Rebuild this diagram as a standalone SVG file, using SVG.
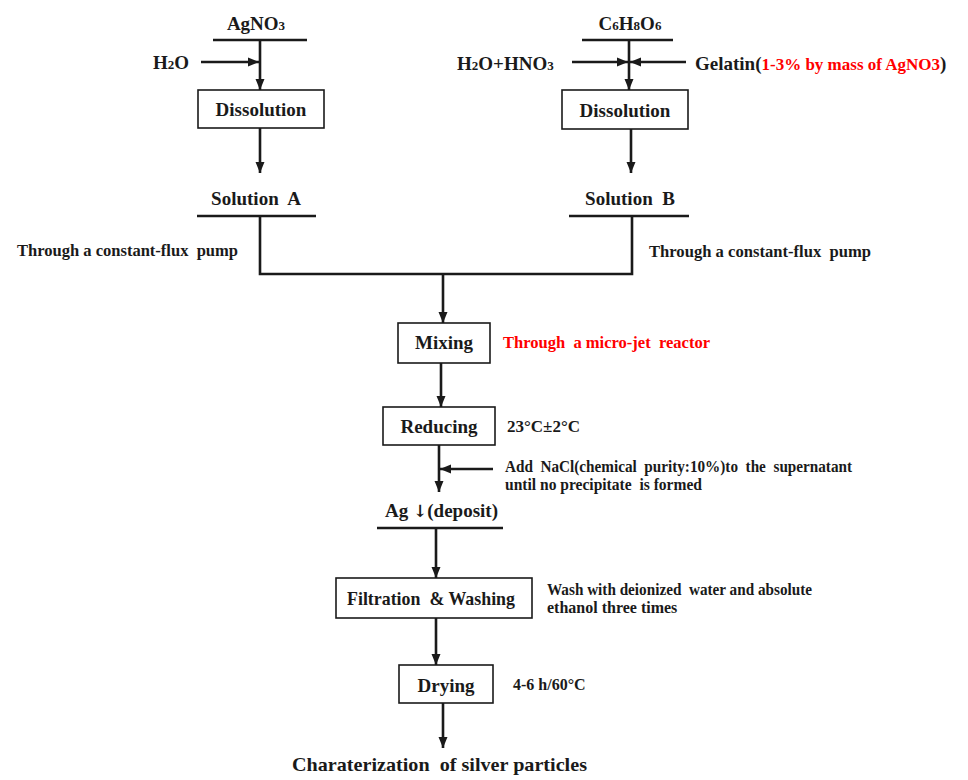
<svg xmlns="http://www.w3.org/2000/svg" width="968" height="780" viewBox="0 0 968 780">
<style>
text{font-family:"Liberation Serif","Times New Roman",serif;font-weight:bold;fill:#1a1a1a;white-space:pre}
.n{font-size:19px}
.a{font-size:16px}
.red{fill:#ff0000}
.box{fill:#fff;stroke:#1a1a1a;stroke-width:1.6}
.ln{fill:none;stroke:#1a1a1a;stroke-width:2.6}
.ar{fill:none;stroke:#1a1a1a;stroke-width:2.6;marker-end:url(#ah)}
</style>
<defs>
<marker id="ah" markerUnits="userSpaceOnUse" markerWidth="12" markerHeight="12" viewBox="0 0 12 12" refX="11" refY="6" orient="auto">
<path d="M0,1.5 L11,6 L0,10.5 Z" fill="#1a1a1a"/>
</marker>
</defs>
<rect width="968" height="780" fill="#fff"/>

<g id="connectors">
<line class="ln" x1="213" y1="40" x2="307" y2="40"/>
<line class="ar" x1="260" y1="40" x2="260" y2="90"/>
<line class="ar" x1="201" y1="62" x2="259" y2="62"/>
<line class="ar" x1="260" y1="128" x2="260" y2="173"/>
<line class="ln" x1="197" y1="216" x2="316" y2="216"/>
<line class="ln" x1="582" y1="40" x2="673" y2="40"/>
<line class="ar" x1="629" y1="40" x2="629" y2="90"/>
<line class="ar" x1="572" y1="62" x2="628" y2="62"/>
<line class="ar" x1="686" y1="62" x2="630" y2="62"/>
<line class="ar" x1="631" y1="129" x2="631" y2="173"/>
<line class="ln" x1="569" y1="216" x2="689" y2="216"/>
<polyline class="ln" points="260,216 260,274 632,274 632,216"/>
<line class="ar" x1="443" y1="274" x2="443" y2="323"/>
<line class="ar" x1="441" y1="363" x2="441" y2="407"/>
<line class="ar" x1="439" y1="445" x2="439" y2="492"/>
<line class="ar" x1="493" y1="469" x2="440" y2="469"/>
<line class="ln" x1="377" y1="528" x2="503" y2="528"/>
<line class="ar" x1="436" y1="528" x2="436" y2="578"/>
<line class="ar" x1="436" y1="618" x2="436" y2="665"/>
<line class="ar" x1="443" y1="703" x2="443" y2="748"/>
</g>

<g id="agno3"><text class="n" x="256" y="30" text-anchor="middle">AgNO<tspan font-size="13">3</tspan></text></g>
<g id="h2o"><text class="n" x="153" y="69">H<tspan font-size="13">2</tspan>O</text></g>
<g id="dissolution-a"><rect class="box" x="198" y="90" width="126" height="38"/><text class="n" x="261" y="116" text-anchor="middle">Dissolution</text></g>
<g id="solution-a"><text class="n" x="256" y="205" text-anchor="middle">Solution  A</text></g>
<g id="pump-a"><text class="a" x="17" y="256" textLength="221" lengthAdjust="spacingAndGlyphs">Through a constant-flux  pump</text></g>

<g id="c6h8o6"><text class="n" x="630" y="30" text-anchor="middle">C<tspan font-size="13">6</tspan>H<tspan font-size="13">8</tspan>O<tspan font-size="13">6</tspan></text></g>
<g id="h2o-hno3"><text class="n" x="457" y="70">H<tspan font-size="13">2</tspan>O+HNO<tspan font-size="13">3</tspan></text></g>
<g id="gelatin"><text class="n" x="695" y="70">Gelatin(<tspan class="red" font-size="17">1-3% by mass of AgNO3</tspan>)</text></g>
<g id="dissolution-b"><rect class="box" x="562" y="90" width="126" height="39"/><text class="n" x="625" y="117" text-anchor="middle">Dissolution</text></g>
<g id="solution-b"><text class="n" x="630" y="205" text-anchor="middle">Solution  B</text></g>
<g id="pump-b"><text class="a" x="649" y="257" textLength="222" lengthAdjust="spacingAndGlyphs">Through a constant-flux  pump</text></g>

<g id="mixing"><rect class="box" x="398" y="323" width="92" height="40"/><text class="n" x="444" y="349" text-anchor="middle">Mixing</text></g>
<g id="microjet"><text class="a red" x="503" y="348" textLength="207" lengthAdjust="spacingAndGlyphs">Through  a micro-jet  reactor</text></g>

<g id="reducing"><rect class="box" x="383" y="407" width="112" height="38"/><text class="n" x="439" y="433" text-anchor="middle">Reducing</text></g>
<g id="temp"><text class="a" x="507" y="432" textLength="73" lengthAdjust="spacingAndGlyphs">23°C±2°C</text></g>
<g id="nacl"><text class="a" x="505" y="472" textLength="347" lengthAdjust="spacingAndGlyphs">Add  NaCl(chemical  purity:10%)to  the  supernatant</text><text class="a" x="505" y="490" textLength="197" lengthAdjust="spacingAndGlyphs">until no precipitate  is formed</text></g>

<g id="ag-deposit"><text class="n" x="385" y="517">Ag <tspan font-family="DejaVu Serif" font-size="17">↓</tspan>(deposit)</text></g>

<g id="filtration"><rect class="box" x="336" y="578" width="196" height="40"/><text class="n" x="347" y="605" textLength="168" lengthAdjust="spacingAndGlyphs">Filtration  &amp; Washing</text></g>
<g id="wash"><text class="a" x="547" y="595" textLength="265" lengthAdjust="spacingAndGlyphs">Wash with deionized  water and absolute</text><text class="a" x="547" y="613">ethanol three times</text></g>

<g id="drying"><rect class="box" x="399" y="665" width="94" height="38"/><text class="n" x="446" y="692" text-anchor="middle">Drying</text></g>
<g id="dry-cond"><text class="a" x="513" y="690">4-6 h/60°C</text></g>

<g id="characterization"><text class="n" x="292" y="771" font-size="20" textLength="295" lengthAdjust="spacingAndGlyphs">Charaterization  of silver particles</text></g>
</svg>
